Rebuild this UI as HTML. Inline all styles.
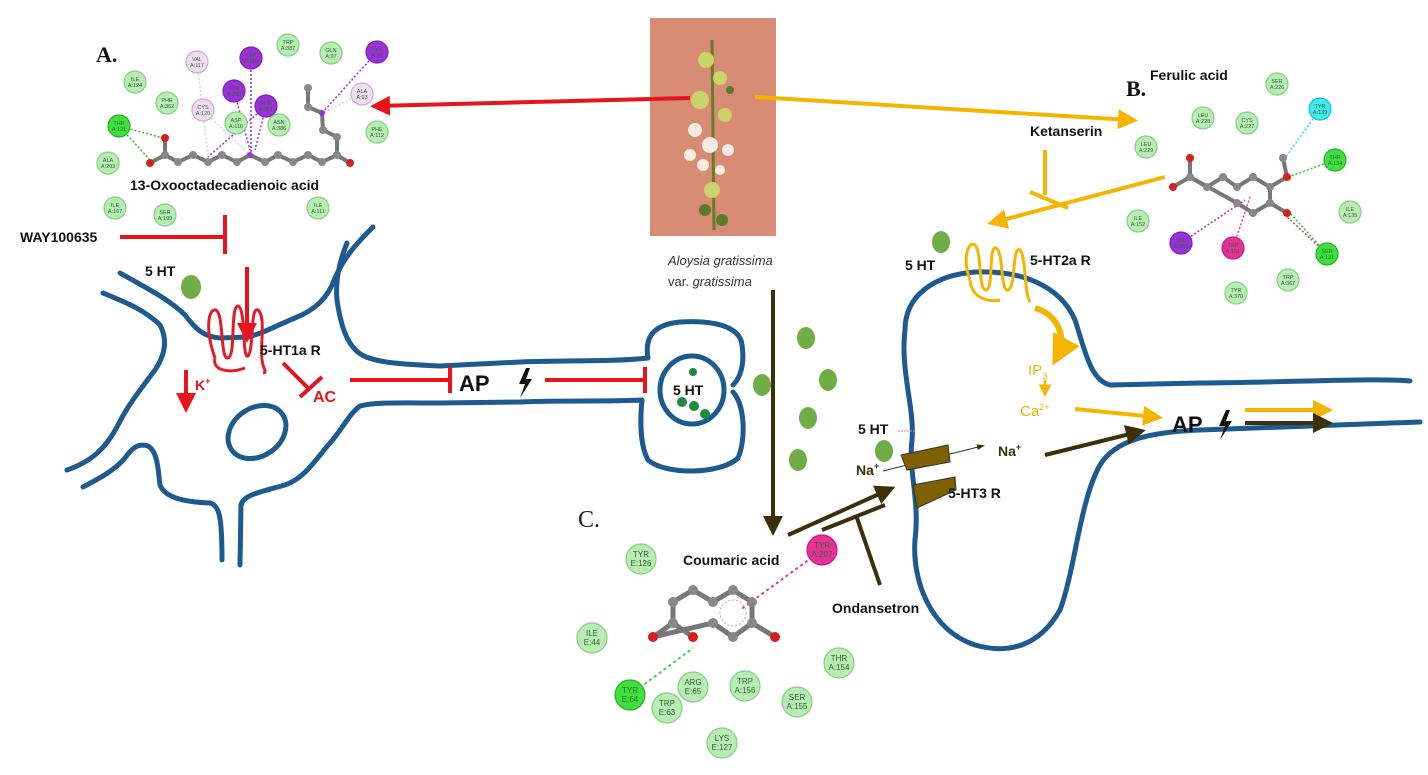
<!DOCTYPE html>
<html><head><meta charset="utf-8"><style>
html,body{margin:0;padding:0;background:#fff;}
svg{display:block;font-family:"Liberation Sans",sans-serif;}
.lb{font-weight:bold;font-size:14px;fill:#111;}
.rs circle{fill:#b8ecb4;stroke:#86cf82;stroke-width:1.2;}
.rs text{font-size:5.5px;fill:#2a6a2a;text-anchor:middle;}
.rc circle{fill:#b8ecb4;stroke:#86cf82;stroke-width:1.2;}
.rc text{font-size:8px;fill:#2a6a2a;text-anchor:middle;}
.nv{fill:none;stroke:#1d5a8f;stroke-width:5;stroke-linecap:round;stroke-linejoin:round;}
</style></head><body>
<svg width="1428" height="775" viewBox="0 0 1428 775" xmlns="http://www.w3.org/2000/svg">
<defs>
<marker id="mr" markerWidth="6" markerHeight="6" refX="3" refY="3" orient="auto" markerUnits="strokeWidth"><path d="M0,0.5 L5,3 L0,5.5Z" fill="#e8141c"/></marker>
<marker id="my" markerWidth="6" markerHeight="6" refX="3" refY="3" orient="auto" markerUnits="strokeWidth"><path d="M0,0.5 L5,3 L0,5.5Z" fill="#f5b400"/></marker>
<marker id="mb" markerWidth="6" markerHeight="6" refX="3" refY="3" orient="auto" markerUnits="strokeWidth"><path d="M0,0.5 L5,3 L0,5.5Z" fill="#3b2f0c"/></marker>
<marker id="mt" markerWidth="8" markerHeight="8" refX="5" refY="4" orient="auto" markerUnits="strokeWidth"><path d="M0,1 L8,4 L0,7Z" fill="#3b2f0c"/></marker>
</defs>

<!-- photo -->
<rect x="650" y="18" width="126" height="218" fill="#d98c74"/>
<path d="M712,40 L714,230" stroke="#6a7a2a" stroke-width="3"/>
<g fill="#c9d46a"><circle cx="706" cy="60" r="8"/><circle cx="720" cy="78" r="7"/><circle cx="700" cy="100" r="9"/><circle cx="725" cy="115" r="7"/><circle cx="712" cy="190" r="8"/></g>
<g fill="#f3ece0"><circle cx="695" cy="130" r="7"/><circle cx="710" cy="145" r="8"/><circle cx="728" cy="150" r="6"/><circle cx="690" cy="155" r="6"/><circle cx="703" cy="165" r="6"/><circle cx="720" cy="170" r="5"/></g>
<g fill="#5a7a2a"><circle cx="705" cy="210" r="6"/><circle cx="722" cy="220" r="6"/><circle cx="730" cy="90" r="4"/></g>
<text x="668" y="265" font-size="13" font-style="italic" fill="#333">Aloysia gratissima</text>
<text x="668" y="286" font-size="13" fill="#333">var. <tspan font-style="italic">gratissima</tspan></text>

<!-- A molecule -->
<text x="96" y="62" font-family="Liberation Serif,serif" font-weight="bold" font-size="22" fill="#111">A.</text>
<g stroke-dasharray="2,2" stroke-width="1.5" fill="none">
<path d="M119,126 L163,138 M119,126 L150,160" stroke="#30c030"/>
<path d="M251,58 L251,155 M266,106 L208,157 M266,106 L255,150 M234,91 L250,150 M377,52 L322,113" stroke="#9b30d8"/>
<path d="M197,62 L208,155 M203,110 L250,155 M362,94 L322,113" stroke="#e8c8ee"/>
</g>
<g class="rs">
<circle cx="119" cy="126" r="11" style="fill:#3de03d;stroke:#2ab02a"/><text x="119" y="125">THR</text><text x="119" y="131">A:121</text>
<circle cx="197" cy="62" r="11" style="fill:#f2dcf2;stroke:#d0a8d8"/><text x="197" y="61">VAL</text><text x="197" y="67">A:117</text>
<circle cx="251" cy="58" r="11" style="fill:#9b30d8;stroke:#8020c0"/><text x="251" y="57">TRP</text><text x="251" y="63">A:110</text>
<circle cx="288" cy="45" r="11"/><text x="288" y="44">TRP</text><text x="288" y="50">A:387</text>
<circle cx="331" cy="53" r="11"/><text x="331" y="52">GLN</text><text x="331" y="58">A:97</text>
<circle cx="377" cy="52" r="11" style="fill:#9b30d8;stroke:#8020c0"/><text x="377" y="51">TYR</text><text x="377" y="57">A:96</text>
<circle cx="135" cy="82" r="11"/><text x="135" y="81">ILE</text><text x="135" y="87">A:124</text>
<circle cx="167" cy="103" r="11"/><text x="167" y="102">PHE</text><text x="167" y="108">A:362</text>
<circle cx="203" cy="110" r="11" style="fill:#f2dcf2;stroke:#d0a8d8"/><text x="203" y="109">CYS</text><text x="203" y="115">A:120</text>
<circle cx="234" cy="91" r="11" style="fill:#9b30d8;stroke:#8020c0"/><text x="234" y="90">TYR</text><text x="234" y="96">A:390</text>
<circle cx="266" cy="106" r="11" style="fill:#9b30d8;stroke:#8020c0"/><text x="266" y="105">PHE</text><text x="266" y="111">A:361</text>
<circle cx="236" cy="123" r="11"/><text x="236" y="122">ASP</text><text x="236" y="128">A:116</text>
<circle cx="279" cy="125" r="11"/><text x="279" y="124">ASN</text><text x="279" y="130">A:386</text>
<circle cx="362" cy="94" r="11" style="fill:#f2dcf2;stroke:#d0a8d8"/><text x="362" y="93">ALA</text><text x="362" y="99">A:93</text>
<circle cx="377" cy="132" r="11"/><text x="377" y="131">PHE</text><text x="377" y="137">A:112</text>
<circle cx="108" cy="163" r="11"/><text x="108" y="162">ALA</text><text x="108" y="168">A:203</text>
<circle cx="115" cy="208" r="11"/><text x="115" y="207">ILE</text><text x="115" y="213">A:167</text>
<circle cx="165" cy="215" r="11"/><text x="165" y="214">SER</text><text x="165" y="220">A:199</text>
<circle cx="318" cy="208" r="11"/><text x="318" y="207">ILE</text><text x="318" y="213">A:111</text>
</g>
<path d="M150,163 L165,155 L178,162 L193,155 L208,162 L222,155 L237,162 L250,155 L265,162 L278,155 L293,162 L308,155 L322,162 L337,155 L350,163 M165,155 L165,138 M337,155 L337,137 L323,130 L322,113 L308,107 L308,88" fill="none" stroke="#777" stroke-width="4"/>
<g fill="#888"><circle cx="165" cy="155" r="4"/><circle cx="178" cy="162" r="4"/><circle cx="193" cy="155" r="4"/><circle cx="208" cy="162" r="4"/><circle cx="222" cy="155" r="4"/><circle cx="237" cy="162" r="4"/><circle cx="265" cy="162" r="4"/><circle cx="278" cy="155" r="4"/><circle cx="293" cy="162" r="4"/><circle cx="308" cy="155" r="4"/><circle cx="322" cy="162" r="4"/><circle cx="337" cy="155" r="4"/><circle cx="337" cy="137" r="4"/><circle cx="323" cy="130" r="4"/><circle cx="308" cy="107" r="4"/><circle cx="308" cy="88" r="4"/></g>
<g fill="#9b30d8"><circle cx="250" cy="155" r="3"/><circle cx="322" cy="113" r="3"/></g>
<g fill="#d42020"><circle cx="150" cy="163" r="4"/><circle cx="165" cy="138" r="4"/><circle cx="350" cy="163" r="4"/></g>
<text x="130" y="190" class="lb" font-size="15">13-Oxooctadecadienoic acid</text>

<!-- B molecule -->
<text x="1126" y="96" font-family="Liberation Serif,serif" font-weight="bold" font-size="22" fill="#111">B.</text>
<text x="1150" y="80" class="lb">Ferulic acid</text>
<g stroke-dasharray="2,2" stroke-width="1.5" fill="none">
<path d="M1320,109 L1285,158" stroke="#30d8e8"/>
<path d="M1335,160 L1288,177 M1327,254 L1290,213" stroke="#30c030"/>
<path d="M1327,254 L1286,216" stroke="#e04040"/>
<path d="M1181,243 L1245,200" stroke="#9b30d8"/>
<path d="M1233,248 L1250,197" stroke="#e03ca0"/>
</g>
<g class="rs">
<circle cx="1277" cy="84" r="11"/><text x="1277" y="83">SER</text><text x="1277" y="89">A:226</text>
<circle cx="1203" cy="118" r="11"/><text x="1203" y="117">LEU</text><text x="1203" y="123">A:228</text>
<circle cx="1247" cy="123" r="11"/><text x="1247" y="122">CYS</text><text x="1247" y="128">A:227</text>
<circle cx="1320" cy="109" r="11" style="fill:#40e8f0;stroke:#20c0d0"/><text x="1320" y="108">TYR</text><text x="1320" y="114">A:139</text>
<circle cx="1146" cy="147" r="11"/><text x="1146" y="146">LEU</text><text x="1146" y="152">A:229</text>
<circle cx="1335" cy="160" r="11" style="fill:#3de03d;stroke:#2ab02a"/><text x="1335" y="159">THR</text><text x="1335" y="165">A:134</text>
<circle cx="1350" cy="212" r="11"/><text x="1350" y="211">ILE</text><text x="1350" y="217">A:135</text>
<circle cx="1138" cy="221" r="11"/><text x="1138" y="220">ILE</text><text x="1138" y="226">A:152</text>
<circle cx="1181" cy="243" r="11" style="fill:#9b30d8;stroke:#8020c0"/><text x="1181" y="242">VAL</text><text x="1181" y="248">A:366</text>
<circle cx="1233" cy="248" r="11" style="fill:#e8309a;stroke:#c02080"/><text x="1233" y="247">TRP</text><text x="1233" y="253">A:151</text>
<circle cx="1327" cy="254" r="11" style="fill:#3de03d;stroke:#2ab02a"/><text x="1327" y="253">SER</text><text x="1327" y="259">A:131</text>
<circle cx="1236" cy="293" r="11"/><text x="1236" y="292">TYR</text><text x="1236" y="298">A:370</text>
<circle cx="1288" cy="280" r="11"/><text x="1288" y="279">TRP</text><text x="1288" y="285">A:367</text>
</g>
<path d="M1173,187 L1190,177 L1190,158 M1190,177 L1207,187 L1223,177 L1237,187 L1253,177 L1270,187 L1270,203 L1253,213 L1237,203 Z M1270,187 L1287,177 L1283,158 M1270,203 L1287,213" fill="none" stroke="#777" stroke-width="4"/>
<g fill="#888"><circle cx="1190" cy="177" r="4"/><circle cx="1207" cy="187" r="4"/><circle cx="1223" cy="177" r="4"/><circle cx="1237" cy="187" r="4"/><circle cx="1253" cy="177" r="4"/><circle cx="1270" cy="187" r="4"/><circle cx="1270" cy="203" r="4"/><circle cx="1253" cy="213" r="4"/><circle cx="1237" cy="203" r="4"/><circle cx="1283" cy="158" r="4"/></g>
<g fill="#d42020"><circle cx="1173" cy="187" r="4"/><circle cx="1190" cy="158" r="4"/><circle cx="1287" cy="177" r="4"/><circle cx="1287" cy="213" r="4"/></g>

<!-- C molecule -->
<text x="578" y="527" font-family="Liberation Serif,serif" font-size="24" fill="#222">C.</text>
<text x="683" y="565" class="lb">Coumaric acid</text>
<text x="832" y="613" class="lb">Ondansetron</text>
<g stroke-dasharray="3,3" stroke-width="2" fill="none">
<path d="M822,550 L740,610" stroke="#e03ca0"/>
<path d="M630,695 L693,648" stroke="#40d040"/>
</g>
<g class="rc">
<circle cx="641" cy="559" r="15"/><text x="641" y="557">TYR</text><text x="641" y="566">E:126</text>
<circle cx="822" cy="550" r="15" style="fill:#e8309a;stroke:#c02080"/><text x="822" y="548">TYR</text><text x="822" y="557">A:207</text>
<circle cx="592" cy="638" r="15"/><text x="592" y="636">ILE</text><text x="592" y="645">E:44</text>
<circle cx="839" cy="663" r="15"/><text x="839" y="661">THR</text><text x="839" y="670">A:154</text>
<circle cx="630" cy="695" r="15" style="fill:#3de03d;stroke:#2ab02a"/><text x="630" y="693">TYR</text><text x="630" y="702">E:64</text>
<circle cx="693" cy="687" r="15"/><text x="693" y="685">ARG</text><text x="693" y="694">E:65</text>
<circle cx="745" cy="686" r="15"/><text x="745" y="684">TRP</text><text x="745" y="693">A:156</text>
<circle cx="667" cy="708" r="15"/><text x="667" y="706">TRP</text><text x="667" y="715">E:63</text>
<circle cx="797" cy="702" r="15"/><text x="797" y="700">SER</text><text x="797" y="709">A:155</text>
<circle cx="722" cy="743" r="15"/><text x="722" y="741">LYS</text><text x="722" y="750">E:127</text>
</g>
<path d="M653,637 L673,623 L673,602 L693,590 L713,602 L733,590 L752,602 L752,623 L733,637 L713,623 Z M673,623 L693,637 M752,623 L775,637" fill="none" stroke="#777" stroke-width="5"/>
<circle cx="733" cy="613" r="13" fill="none" stroke="#aaa" stroke-dasharray="2,2"/>
<g fill="#888"><circle cx="673" cy="623" r="5"/><circle cx="673" cy="602" r="5"/><circle cx="693" cy="590" r="5"/><circle cx="713" cy="602" r="5"/><circle cx="733" cy="590" r="5"/><circle cx="752" cy="602" r="5"/><circle cx="752" cy="623" r="5"/><circle cx="733" cy="637" r="5"/><circle cx="713" cy="623" r="5"/></g>
<g fill="#d42020"><circle cx="653" cy="637" r="5"/><circle cx="693" cy="637" r="5"/><circle cx="775" cy="637" r="5"/></g>

<!-- left neuron -->
<path class="nv" d="M120,273 C150,290 170,300 185,315 C195,328 203,337 220,338 L247,337 C262,334 273,327 295,318 C315,310 328,298 335,278 C345,255 360,240 373,227"/>
<path class="nv" d="M103,293 C125,302 145,310 160,325 C168,340 165,355 155,370 C140,390 128,405 118,425 C105,450 90,462 67,470"/>
<path class="nv" d="M347,243 C340,260 335,280 337,300 C340,320 345,345 362,355 C375,362 395,364 440,366 L520,362 C570,360 610,362 648,358 C645,340 650,325 680,322 C710,320 740,325 742,345 C745,365 740,378 733,385"/>
<path class="nv" d="M83,487 C100,478 115,470 125,458 C132,448 138,443 148,446 C158,452 158,470 160,485 C165,498 185,502 210,503 C220,505 222,520 222,560"/>
<path class="nv" d="M240,565 L241,505 C243,495 260,492 285,485 C305,478 315,460 330,443 C342,430 348,415 360,406 C375,402 400,403 440,403 L520,402 C570,400 610,402 642,400 C640,420 640,445 648,460 C665,475 720,475 738,458 C746,440 745,405 733,392"/>
<ellipse class="nv" cx="257" cy="432" rx="31" ry="24" transform="rotate(-35 257 432)"/>
<ellipse class="nv" cx="692" cy="390" rx="32" ry="34"/>
<g fill="#1e8a3c"><circle cx="693" cy="372" r="4"/><circle cx="682" cy="402" r="5"/><circle cx="694" cy="406" r="5"/><circle cx="705" cy="414" r="5"/></g>
<text x="673" y="395" class="lb">5 HT</text>

<!-- red receptor 5-HT1a -->
<path d="M215,358 C205,330 208,308 216,310 C224,314 220,360 228,358 C236,356 230,306 238,306 C246,308 242,360 248,356 C254,350 250,306 258,310 C266,316 260,345 262,360 C263,370 268,372 263,373 M215,358 C212,370 228,374 245,368" fill="none" stroke="#e01e2a" stroke-width="3"/>
<g stroke="#e8141c" stroke-width="4" fill="none">
<path d="M120,237 L224,237"/><path d="M225,215 L225,254"/>
<path d="M247,267 L247,335" marker-end="url(#mr)"/>
<path d="M186,370 L186,405" marker-end="url(#mr)"/>
<path d="M283,363 L310,390"/><path d="M300,397 L322,377"/>
<path d="M350,380 L450,380"/><path d="M450,367 L450,393"/>
<path d="M545,380 L645,380"/><path d="M645,367 L645,393"/>
<path d="M690,98 L378,106" marker-end="url(#mr)"/>
</g>
<text x="20" y="242" class="lb" font-size="15">WAY100635</text>
<text x="145" y="276" class="lb">5 HT</text>
<ellipse cx="191" cy="287" rx="10" ry="12" fill="#70ad47"/>
<text x="260" y="355" class="lb">5-HT1a R</text>
<text x="195" y="390" font-weight="bold" font-size="14" fill="#e8141c">K<tspan font-size="9" dy="-6">+</tspan></text>
<text x="313" y="402" font-weight="bold" font-size="16" fill="#e8141c">AC</text>
<text x="459" y="391" font-weight="bold" font-size="22" fill="#111">AP</text>
<path d="M526,368 L519,384 L525,384 L520,398 L532,379 L526,379 L530,368Z" fill="#111"/>

<!-- green dots -->
<g fill="#70ad47"><ellipse cx="806" cy="338" rx="9" ry="11"/><ellipse cx="828" cy="380" rx="9" ry="11"/><ellipse cx="808" cy="418" rx="9" ry="11"/><ellipse cx="798" cy="460" rx="9" ry="11"/><ellipse cx="762" cy="385" rx="9" ry="11"/><ellipse cx="884" cy="451" rx="9" ry="11"/><ellipse cx="941" cy="242" rx="9" ry="11"/></g>

<!-- right neuron -->
<path class="nv" d="M1410,381 C1380,378 1300,382 1200,383 L1110,385 C1090,380 1085,350 1075,320 C1060,285 1020,270 975,272 C935,275 905,295 905,330 C900,370 915,410 912,440 C908,470 920,500 915,540 C912,580 930,630 975,645 C1010,655 1040,645 1060,610 C1075,570 1080,500 1100,465 C1115,440 1150,432 1200,430 L1420,422"/>

<!-- yellow -->
<path d="M970,280 C962,260 968,240 975,245 C982,252 978,290 986,290 C994,290 988,245 996,248 C1004,252 1000,292 1008,290 C1016,288 1012,245 1020,250 C1026,256 1024,292 1030,302 M970,280 C972,300 990,302 1000,300" fill="none" stroke="#f5b400" stroke-width="3"/>
<g stroke="#f5b400" stroke-width="4" fill="none">
<path d="M755,97 L1130,120" marker-end="url(#my)"/>
<path d="M1045,150 L1045,195"/><path d="M1030,192 L1068,208"/>
<path d="M1165,177 L995,222" marker-end="url(#my)"/>
<path d="M1035,308 C1060,315 1066,340 1058,355" stroke-width="6" marker-end="url(#my)"/>
<path d="M1045,380 L1045,392" stroke-width="2.5" marker-end="url(#my)"/>
<path d="M1075,409 L1155,417" marker-end="url(#my)"/>
<path d="M1245,410 L1325,410" marker-end="url(#my)"/>
</g>
<text x="1028" y="375" font-size="15" fill="#f5b400">IP<tspan font-size="9" dy="4">3</tspan></text>
<text x="1020" y="416" font-size="15" fill="#f5b400">Ca<tspan font-size="9" dy="-6">2+</tspan></text>
<text x="1030" y="136" class="lb">Ketanserin</text>
<text x="905" y="270" class="lb">5 HT</text>
<text x="1030" y="265" class="lb">5-HT2a R</text>
<text x="1172" y="432" font-weight="bold" font-size="22" fill="#111">AP</text>
<path d="M1226,410 L1219,426 L1225,426 L1220,440 L1232,421 L1226,421 L1230,410Z" fill="#111"/>

<!-- brown -->
<g stroke="#3b2f0c" stroke-width="4" fill="none">
<path d="M773,290 L773,528" marker-end="url(#mb)"/>
<path d="M788,535 L888,490" marker-end="url(#mb)"/>
<path d="M822,530 L885,505"/><path d="M857,518 L880,585"/>
<path d="M1045,455 L1138,432" marker-end="url(#mb)"/>
<path d="M1245,423 L1325,423" marker-end="url(#mb)"/>
<path d="M883,471 L982,446" stroke-width="1" marker-end="url(#mt)"/>
</g>
<path d="M901,455 L948,445 L950,462 L907,470Z M913,485 L955,477 L956,490 L917,508Z" fill="#7f6000" stroke="#333" stroke-width="1"/>
<text x="858" y="434" class="lb">5 HT</text>
<path d="M898,431 L915,431" stroke="#e070c0" stroke-width="1" stroke-dasharray="2,1"/>
<text x="856" y="475" font-weight="bold" font-size="14" fill="#3b2f0c">Na<tspan font-size="9" dy="-6">+</tspan></text>
<text x="998" y="456" font-weight="bold" font-size="14" fill="#3b2f0c">Na<tspan font-size="9" dy="-6">+</tspan></text>
<text x="948" y="498" class="lb">5-HT3 R</text>
</svg>
</body></html>
